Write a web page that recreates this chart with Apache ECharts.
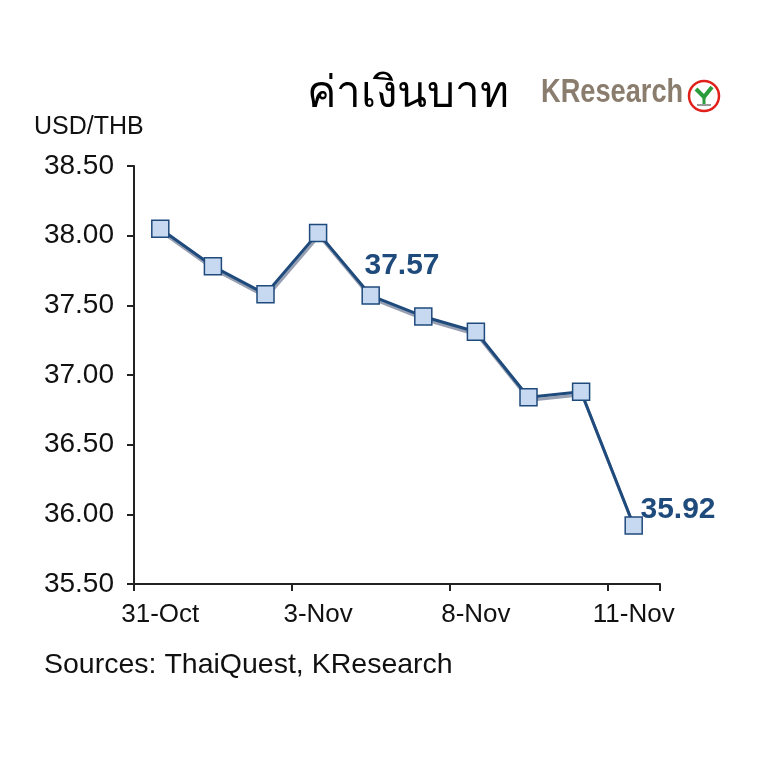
<!DOCTYPE html>
<html><head><meta charset="utf-8">
<script src="https://cdn.jsdelivr.net/npm/echarts@6/dist/echarts.min.js"></script>
<style>html,body{margin:0;padding:0;background:#fff}#c{width:770px;height:768px}</style>
</head><body><div id="c"></div>
<script>
const categories = ['31-Oct','1-Nov','2-Nov','3-Nov','4-Nov','7-Nov','8-Nov','9-Nov','10-Nov','11-Nov'];
const rates = [38.05, 37.78, 37.58, 38.02, 37.57, 37.42, 37.31, 36.84, 36.88, 35.92];
const labeledIdx = [4, 9];
const yTicks = {min: 35.5, max: 38.5, interval: 0.5};

const chart = echarts.init(document.getElementById('c'));
const navy = '#1f4a7c';
const sans = 'Liberation Sans, Arial, sans-serif';
chart.setOption({
  animation: false,
  backgroundColor: '#fff',
  grid: {left: 134, right: 110, top: 166, bottom: 184, containLabel: false},
  title: {
    text: 'ค่าเงินบาท', left: 302, top: 67,
    textStyle: {fontSize: 44, fontWeight: 'normal', color: '#000', fontFamily: 'Noto Sans, DejaVu Sans, sans-serif'}
  },
  graphic: [
    {type: 'text', left: 34, top: 115, style: {text: 'USD/THB', fontSize: 25, fill: '#111', fontFamily: sans}},
    {type: 'text', left: 44, top: 651, style: {text: 'Sources: ThaiQuest, KResearch', fontSize: 28.5, fill: '#111', fontFamily: sans}},
    {type: 'text', x: 541, y: 76, scaleX: 0.8, style: {text: 'KResearch', fontSize: 34, fontWeight: 'bold', fill: '#8a7d6e', fontFamily: sans}},
    {type: 'circle', shape: {cx: 704, cy: 96, r: 15}, style: {fill: '#fff', stroke: '#e0201b', lineWidth: 2.5}},
    {type: 'polyline', shape: {points: [[696,89],[704,97],[712,87]]}, style: {stroke: '#2a9d3a', lineWidth: 4, fill: 'none'}},
    {type: 'line', shape: {x1: 704, y1: 97, x2: 704, y2: 104}, style: {stroke: '#2a9d3a', lineWidth: 3}},
    {type: 'line', shape: {x1: 697, y1: 105, x2: 711, y2: 105}, style: {stroke: '#999', lineWidth: 2}}
  ],
  xAxis: {
    type: 'category', data: categories, boundaryGap: true,
    axisLine: {lineStyle: {color: '#222', width: 2}},
    axisTick: {show: true, interval: 2, length: 7, lineStyle: {color: '#222', width: 2}},
    axisLabel: {interval: 2, fontSize: 26, color: '#111', margin: 18, fontFamily: sans}
  },
  yAxis: {
    type: 'value', min: yTicks.min, max: yTicks.max, interval: yTicks.interval,
    axisLine: {show: true, lineStyle: {color: '#222', width: 2}},
    axisTick: {show: true, length: 7, lineStyle: {color: '#222', width: 2}},
    splitLine: {show: false},
    axisLabel: {fontSize: 28, color: '#111', margin: 20, formatter: v => v.toFixed(2), fontFamily: sans}
  },
  series: [{
    type: 'line', data: rates.map((v, i) => labeledIdx.includes(i) ? {
      value: v,
      label: {show: true, position: i === 9 ? [16, -21] : [3, -36], formatter: p => p.value.toFixed(2),
        fontSize: 30, fontWeight: 'bold', color: navy, fontFamily: sans}
    } : v),
    symbol: 'rect', symbolSize: 17,
    lineStyle: {color: navy, width: 3, shadowColor: 'rgba(140,150,170,0.9)', shadowOffsetX: 1, shadowOffsetY: 3, shadowBlur: 0},
    itemStyle: {color: '#c6d9f0', borderColor: navy, borderWidth: 1.5}
  }]
});
</script></body></html>
